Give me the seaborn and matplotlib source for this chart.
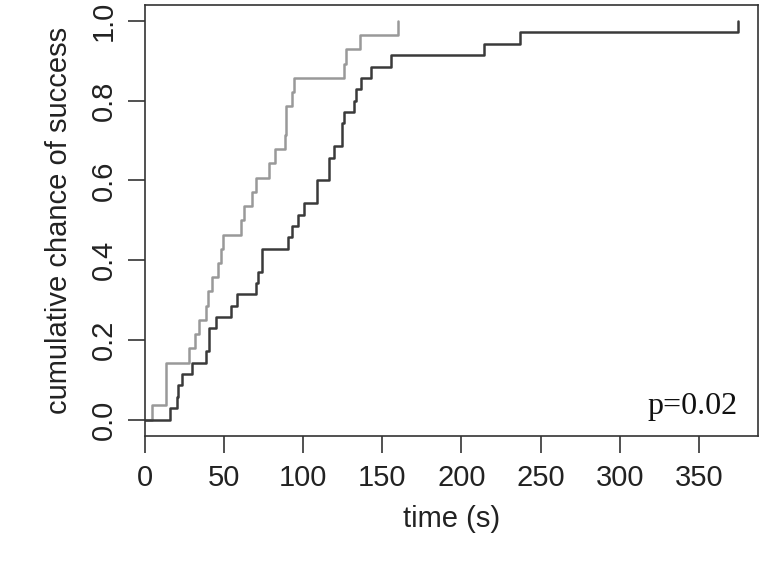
import numpy as np
import pandas as pd
import matplotlib
matplotlib.use("Agg")
import matplotlib.pyplot as plt
import seaborn as sns

# success times (s)
times_a = [4.6, 13.3, 13.3, 13.3, 28.0, 31.8, 34.1, 39.1, 40.0, 42.5, 46.1, 48.2, 49.4,
           60.8, 62.9, 67.7, 70.1, 78.7, 82.5, 88.6, 89.6, 89.6, 93.2, 94.4,
           126.0, 127.3, 135.7, 160.1]
times_b = [15.8, 20.4, 21.2, 23.8, 30.1, 38.9, 41.0, 41.0, 45.0, 54.5, 58.1, 70.1, 71.7,
           73.9, 73.9, 90.7, 93.2, 96.8, 100.4, 108.6, 108.6, 116.4, 116.4, 119.7,
           124.7, 124.7, 125.6, 132.1, 133.2, 136.7, 142.9, 155.3, 214.2, 237.1, 374.4]
groups = ["a", "b"]
colors = {"a": "#999999", "b": "#3a3a3a"}
x_ticks = [0, 50, 100, 150, 200, 250, 300, 350]
y_ticks = [0.0, 0.2, 0.4, 0.6, 0.8, 1.0]


def cum_curve(times, name):
    t = np.sort(np.asarray(times, dtype=float))
    n = len(t)
    # curve starts at time 0 with nothing solved yet
    return pd.DataFrame({
        "time": np.concatenate([[0.0], t]),
        "cum": np.concatenate([[0.0], np.arange(1, n + 1) / n]),
        "group": name,
    })


data = pd.concat([cum_curve(times_a, "a"), cum_curve(times_b, "b")], ignore_index=True)

sns.set_theme(style="white")
plt.rcParams["font.family"] = ["Liberation Sans", "DejaVu Sans"]

fig = plt.figure(figsize=(7.64, 5.80), dpi=100)
ax = fig.add_axes([144.5 / 764, 144 / 580, 613.2 / 764, 431.3 / 580])

for g in groups:
    sns.lineplot(data=data[data["group"] == g], x="time", y="cum", color=colors[g],
                 drawstyle="steps-post", linewidth=1.8, estimator=None, sort=False,
                 ax=ax)

ax.set_xlim(0, 387)
ax.set_ylim(-0.0414, 1.041)
ax.set_xticks(x_ticks)
ax.set_yticks(y_ticks)
ax.set_yticklabels([f"{v:.1f}" for v in y_ticks], rotation=90, va="center")

for s in ax.spines.values():
    s.set_visible(True)
    s.set_color("#333333")
    s.set_linewidth(1.2)
ax.tick_params(axis="both", direction="out", length=12.5, width=1.2, color="#333333",
               labelsize=21, labelcolor="#222222")
ax.tick_params(axis="x", bottom=True, pad=8)
ax.tick_params(axis="y", left=True, pad=7)

ax.set_xlabel("time (s)", fontsize=21, color="#222222", labelpad=9)
ax.set_ylabel("cumulative chance of success", fontsize=21, color="#222222", labelpad=12)

ax.text(0.967, 0.05, "p=0.02", transform=ax.transAxes, ha="right", va="baseline",
        fontsize=23, family=["Liberation Serif", "DejaVu Serif"], color="#111111")

fig.savefig("out.png", dpi=100)
